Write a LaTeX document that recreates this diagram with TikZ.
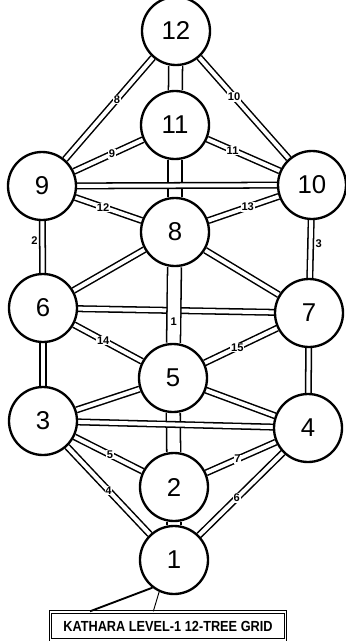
\documentclass[tikz,border=0pt]{standalone}
\usepackage{fontspec}
\usepackage{pdfrender}
\setsansfont{Liberation Sans}
\newfontfamily\boxfont[FakeStretch=0.87]{Liberation Sans}
\usetikzlibrary{backgrounds}
\tikzset{
  sphere/.style={circle,draw,line width=2pt,fill=white,minimum size=2.04cm,inner sep=0pt,
    font=\sffamily\fontsize{22}{22}\selectfont},
  path/.style={draw,line width=1.3pt,double,double distance=3.4pt},
  trunk/.style={draw,line width=1.3pt,double,double distance=10.5pt},
  pathno/.style={fill=white,inner sep=0.6pt,font=\sffamily\bfseries\fontsize{9.5}{9.5}\selectfont}
}
\newcommand\hollow[1]{\textpdfrender{TextRenderingMode=FillStroke,LineWidth=0.4pt}{#1}}
\begin{document}
\begin{tikzpicture}[x=0.03cm,y=-0.03cm]
  \useasboundingbox (0,0) rectangle (346,641);
  \foreach \n/\x/\y in {12/176/31, 11/175/125, 10/312/185, 9/42/186, 8/175/232, 7/309/313,
      6/43/308, 5/173/378, 4/308/428, 3/43/421, 2/174/487, 1/174/560}
    \node[sphere] (s\n) at (\x,\y) {\hollow{\n}};
  \begin{scope}[on background layer]
    \foreach \a/\b in {12/11, 11/8, 5/2, 2/1}
      \draw[trunk] (s\a) -- (s\b);
    \foreach \a/\b in {9/10, 8/6, 8/7, 6/7, 6/3, 7/4, 5/3, 5/4, 3/4}
      \draw[path] (s\a) -- (s\b);
    \draw[trunk] (s8) -- node[pathno,pos=0.72] (p1) {1} (s5);
    \draw[path] (s9) -- node[pathno,fill=none,left=3pt,pos=0.37] (p2) {2} (s6);
    \draw[path] (s10) -- node[pathno,fill=none,right=3pt,pos=0.4] (p3) {3} (s7);
    \foreach \a/\b/\p/\t in {12/9/0.41/8, 12/10/0.39/10, 11/9/0.45/9, 11/10/0.35/11, 9/8/0.42/12,
        10/8/0.44/13, 6/5/0.43/14, 7/5/0.55/15, 3/2/0.52/5, 4/2/0.55/7, 3/1/0.5/4, 4/1/0.55/6}
      \draw[path] (s\a) -- node[pathno,pos=\p] (p\t) {\t} (s\b);
  \end{scope}
  \node[draw,line width=0.9pt,double,double distance=1.2pt,minimum width=7.05cm,minimum height=0.85cm,
    inner sep=0pt,font=\boxfont\bfseries\fontsize{12.5}{12.5}\selectfont] (title) at (168,626) {KATHARA LEVEL-1 12-TREE GRID};
  \draw[line width=1.6pt] (s1.232) -- ([xshift=1.2cm]title.north west);
  \draw[line width=0.8pt] (s1.245) -- ([xshift=3.1cm]title.north west);
\end{tikzpicture}
\end{document}
